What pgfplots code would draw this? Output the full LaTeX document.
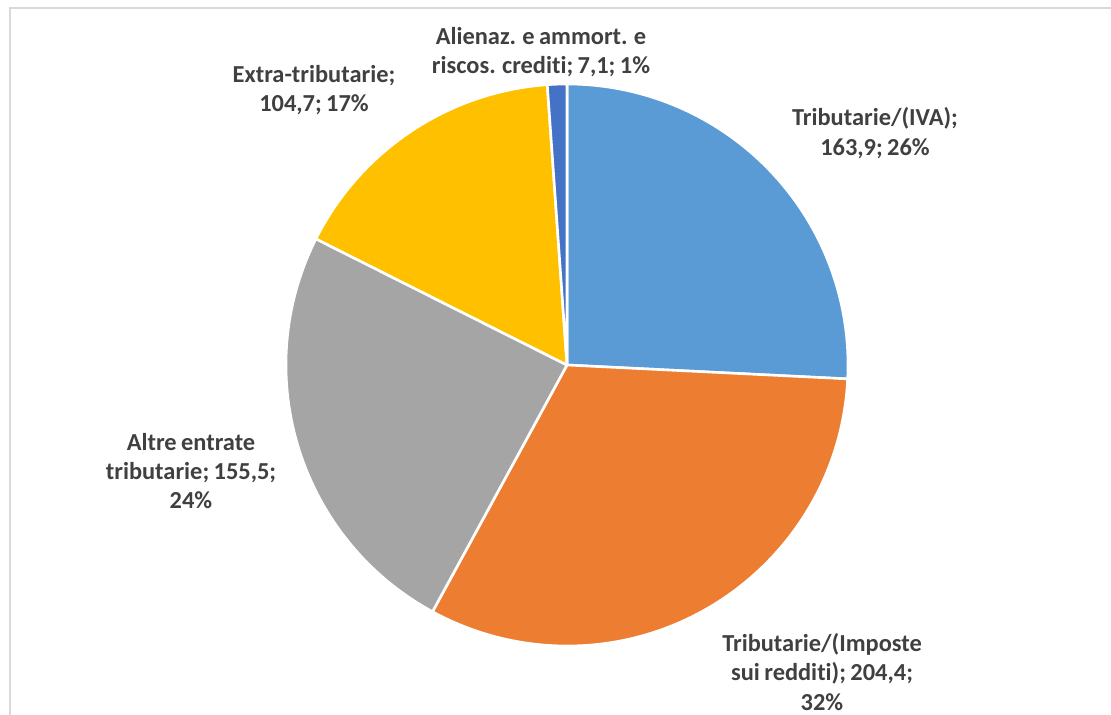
\documentclass[border=0pt]{standalone}
\usepackage{pgfplots}
\usepackage{pgfplotstable}
\pgfplotsset{compat=1.18}
\usepackage{fontspec}
\setmainfont{Carlito}[Ligatures={NoCommon}, WordSpace=0.8]
\definecolor{cA}{HTML}{5B9BD5}
\definecolor{cB}{HTML}{ED7D31}
\definecolor{cC}{HTML}{A5A5A5}
\definecolor{cD}{HTML}{FFC000}
\definecolor{cE}{HTML}{4472C4}
\definecolor{labgray}{HTML}{404040}
\definecolor{bordgray}{HTML}{D9D9D9}
\pgfplotstableread[col sep=comma]{
name,value
IVA,163.9
Imposte,204.4
Altre,155.5
Extra,104.7
Alienaz,7.1
}\piedata
\begin{document}
\begin{tikzpicture}
\pgfplotstablegetelem{0}{value}\of\piedata\let\vA\pgfplotsretval
\pgfplotstablegetelem{1}{value}\of\piedata\let\vB\pgfplotsretval
\pgfplotstablegetelem{2}{value}\of\piedata\let\vC\pgfplotsretval
\pgfplotstablegetelem{3}{value}\of\piedata\let\vD\pgfplotsretval
\pgfplotstablegetelem{4}{value}\of\piedata\let\vE\pgfplotsretval
\pgfmathsetmacro\total{\vA+\vB+\vC+\vD+\vE}
\pgfmathsetmacro\aA{90}
\pgfmathsetmacro\aB{\aA-360*(\vA/\total)}
\pgfmathsetmacro\aC{\aB-360*(\vB/\total)}
\pgfmathsetmacro\aD{\aC-360*(\vC/\total)}
\pgfmathsetmacro\aE{\aD-360*(\vD/\total)}
\pgfmathsetmacro\aF{\aE-360*(\vE/\total)}
\def\R{281bp}
\begin{axis}[hide axis, scale only axis, width=1111bp, height=715bp,
  xmin=0, xmax=1111, ymin=0, ymax=715, y dir=reverse, clip=false]
\coordinate (SW) at (axis cs:0,715);
\coordinate (NE) at (axis cs:1111,0);
\draw[bordgray, line width=2.2bp] (axis cs:1111,8) -- (axis cs:10,8) -- (axis cs:10,715);
\begin{scope}[draw=white, line width=2.6bp, line join=round]
\filldraw[fill=cA] (axis cs:567,365) -- ++(\aA:\R) arc[start angle=\aA, end angle=\aB, radius=\R] -- cycle;
\filldraw[fill=cB] (axis cs:567,365) -- ++(\aB:\R) arc[start angle=\aB, end angle=\aC, radius=\R] -- cycle;
\filldraw[fill=cC] (axis cs:567,365) -- ++(\aC:\R) arc[start angle=\aC, end angle=\aD, radius=\R] -- cycle;
\filldraw[fill=cD] (axis cs:567,365) -- ++(\aD:\R) arc[start angle=\aD, end angle=\aE, radius=\R] -- cycle;
\filldraw[fill=cE] (axis cs:567,365) -- ++(\aE:\R) arc[start angle=\aE, end angle=\aF, radius=\R] -- cycle;
\end{scope}
\begin{scope}[every node/.style={align=center, text=labgray, font=\bfseries\fontsize{24.5}{29.5}\selectfont, inner sep=0pt}]
\node at (axis cs:875,133) {Tributarie/(IVA);\\163,9; 26\%};
\node at (axis cs:822,672) {Tributarie/(Imposte\\sui redditi); 204,4;\\32\%};
\node at (axis cs:191,471) {Altre entrate\\tributarie; 155,5;\\24\%};
\node at (axis cs:314,90) {Extra-tributarie;\\104,7; 17\%};
\node at (axis cs:541,52) {Alienaz. e ammort. e\\riscos. crediti; 7,1; 1\%};
\end{scope}
\end{axis}
\pgfresetboundingbox
\path[use as bounding box] (SW) rectangle (NE);
\end{tikzpicture}
\end{document}
